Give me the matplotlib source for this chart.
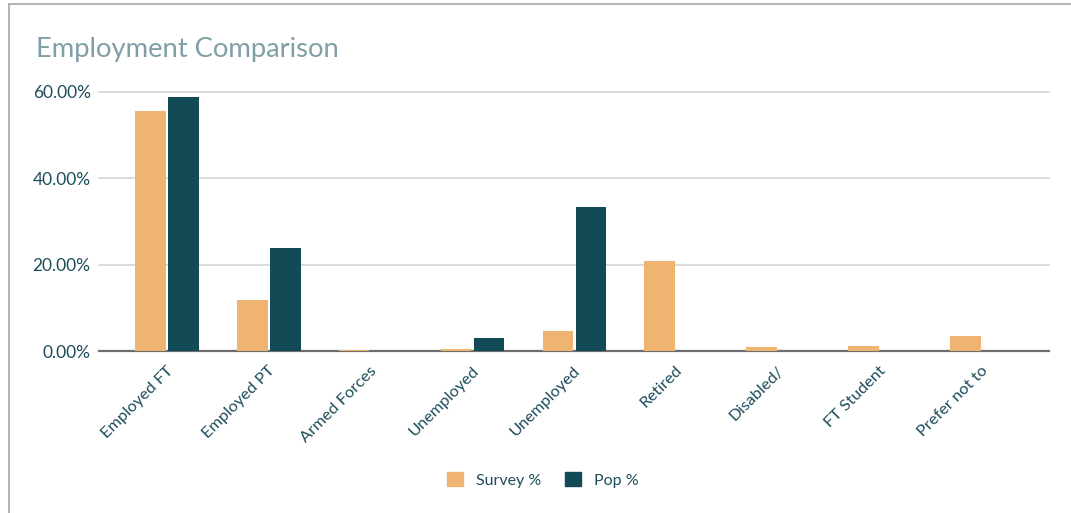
import matplotlib
matplotlib.use('Agg')
import matplotlib.pyplot as plt
import numpy as np
from matplotlib.lines import Line2D
from matplotlib.patches import Patch

categories = ['Employed FT', 'Employed PT', 'Armed Forces', 'Unemployed', 'Unemployed',
              'Retired', 'Disabled/', 'FT Student', 'Prefer not to']
survey_pct = [55.6, 11.8, 0.3, 0.5, 4.7, 20.9, 0.85, 1.2, 3.4]
pop_pct = [58.8, 23.9, 0.0, 3.1, 33.3, 0.0, 0.0, 0.0, 0.0]
yticks = [0, 20, 40, 60]

survey_col = '#EFB471'
pop_col = '#124A56'
text_col = '#1D4D5B'

plt.rcParams['font.family'] = ['Lato', 'DejaVu Sans']

W, H = 1071, 513
fig = plt.figure(figsize=(W/100, H/100), dpi=100)
# frame round the card (top and left edges)
fig.add_artist(Line2D([9/W, 9/W], [0, 1-4/H], color='#A8A8A8', lw=1.2))
fig.add_artist(Line2D([9/W, 1], [1-4/H, 1-4/H], color='#A8A8A8', lw=1.2))

ax = fig.add_axes([99/W, 1-351/H, (1049-99)/W, (351-92)/H])
x = np.arange(len(categories))
w = 0.30
ax.bar(x - 0.162, survey_pct, w, color=survey_col, zorder=3)
ax.bar(x + 0.162, pop_pct, w, color=pop_col, zorder=3)

ax.set_xlim(-0.668, 8.66)
ax.set_ylim(0, 60)
ax.set_yticks(yticks)
ax.set_yticklabels(['%.2f%%' % v for v in yticks], fontsize=12.5, color=text_col)
for v in yticks[1:]:
    ax.axhline(v, color='#D4D4D4', lw=1.2, zorder=1, clip_on=False)
ax.axhline(0, color='#6E6E6E', lw=1.6, zorder=2.5, clip_on=False)
for s in ax.spines.values():
    s.set_visible(False)
ax.tick_params(axis='y', length=0, pad=6)
ax.tick_params(axis='x', length=0, pad=9)
ax.set_xticks(x - 0.01)
ax.set_xticklabels(categories, rotation=45, ha='right', rotation_mode='anchor',
                   fontsize=11.8, color=text_col)

fig.text(36/W, 1-49/H, 'Employment Comparison', fontsize=19.7, color='#7F9FA6',
         va='center', ha='left')

handles = [Patch(color=survey_col, label='Survey %'), Patch(color=pop_col, label='Pop %')]
fig.legend(handles=handles, loc='center', bbox_to_anchor=(543/W, 1-480/H), ncol=2,
           frameon=False, fontsize=11.5, handlelength=1.0, handleheight=1.0,
           columnspacing=1.5, handletextpad=0.8, labelcolor=text_col)

fig.savefig('out.png', dpi=100)
